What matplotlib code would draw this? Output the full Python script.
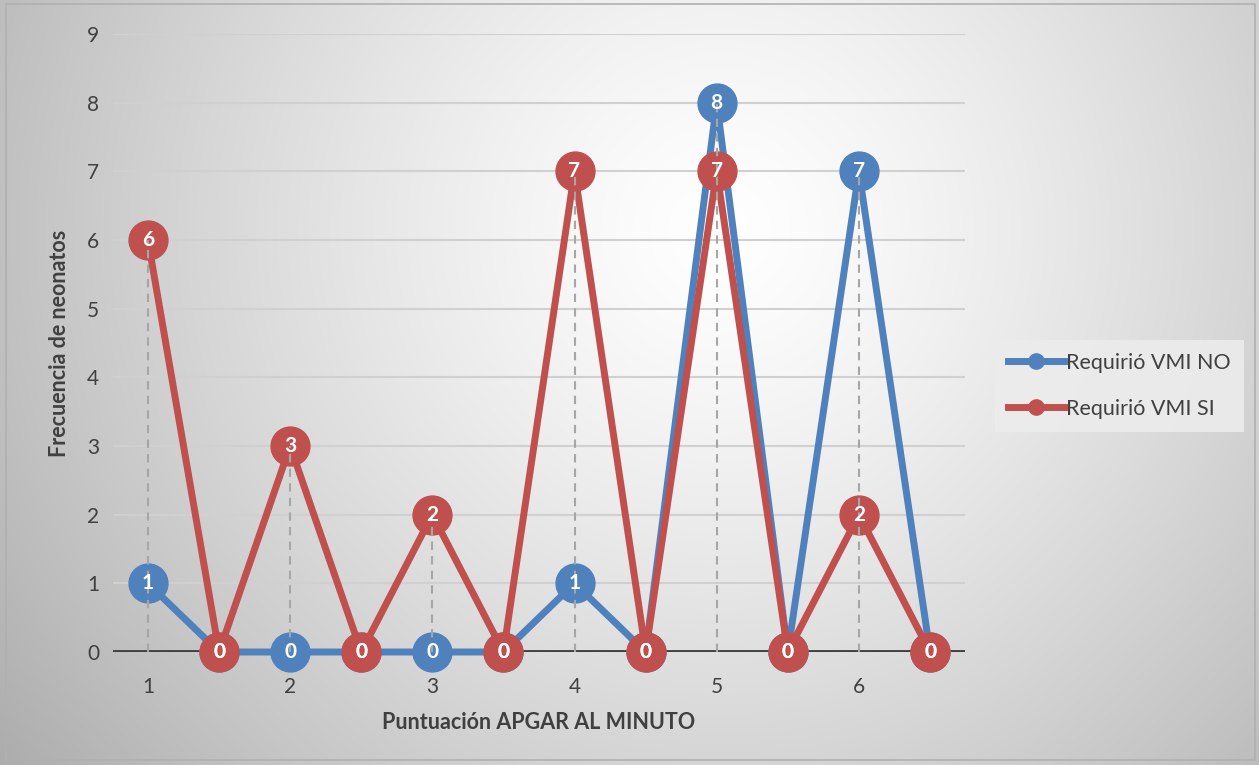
import numpy as np
import matplotlib
matplotlib.use("Agg")
import matplotlib.pyplot as plt
from matplotlib.patches import Rectangle
from matplotlib.lines import Line2D

plt.rcParams['font.family'] = ['Lato', 'DejaVu Sans']

# Data
x_pos = [1, 1.5, 2, 2.5, 3, 3.5, 4, 4.5, 5, 5.5, 6, 6.5]
tick_pos = [1, 2, 3, 4, 5, 6]
tick_labels = ['1', '2', '3', '4', '5', '6']
vmi_no = [1, 0, 0, 0, 0, 0, 1, 0, 8, 0, 7, 0]
vmi_si = [6, 0, 3, 0, 2, 0, 7, 0, 7, 0, 2, 0]
series_names = ['Requirió VMI NO', 'Requirió VMI SI']
colors = ['#4F81BD', '#C0504D']

W, H = 1259, 765
fig = plt.figure(figsize=(W / 100, H / 100), dpi=100)

# background radial gradient
bg = fig.add_axes([0, 0, 1, 1], zorder=-10)
yy, xx = np.mgrid[0:H, 0:W]
d = np.sqrt((xx - 720) ** 2 + (yy - 230) ** 2)
v = 1 - 0.27 * np.clip(d / 780, 0, 1.2) ** 1.3
img = np.dstack([v, v, v])
bg.imshow(img, aspect='auto', extent=[0, W, H, 0])
bg.add_patch(Rectangle((6, 4), W - 10, H - 9, fill=False, ec='#b0b0b0', lw=1.2))
bg.set_xlim(0, W)
bg.set_ylim(H, 0)
bg.axis('off')

left, right = 113 / W, 965 / W
bottom, top = 1 - 652 / H, 1 - 34 / H
ax = fig.add_axes([left, bottom, right - left, top - bottom])
ax.set_facecolor('none')
ax.set_xlim(0.754, 6.746)
ax.set_ylim(0, 9)
ax.set_yticks(range(0, 10))
ax.set_xticks(tick_pos)
ax.set_xticklabels(tick_labels)
for s in ax.spines.values():
    s.set_visible(False)
ax.tick_params(length=0, labelsize=15, labelcolor='#404040')
ax.tick_params(axis='y', pad=10)
ax.tick_params(axis='x', pad=18)
ax.grid(axis='y', color='#d0d0d0', lw=1.5, zorder=0)
ax.set_axisbelow(True)
ax.axhline(0, color='#404040', lw=3.5, zorder=1)

# drop lines
for xp, a, b in zip(x_pos, vmi_no, vmi_si):
    m = max(a, b)
    if m > 0:
        ax.plot([xp, xp], [0, m], ls=(0, (4, 3)), color='#a6a6a6', lw=1.5, zorder=6)

for vals, c, z in zip([vmi_no, vmi_si], colors, [3, 4]):
    ax.plot(x_pos, vals, color=c, lw=5, marker='o', ms=28, mec=c, mfc=c,
            zorder=z, clip_on=False)
    for xp, val in zip(x_pos, vals):
        ax.text(xp, val, str(val), color='white', fontsize=15, fontweight='bold',
                ha='center', va='center', zorder=z + 4)

ax.set_xlabel('Puntuación APGAR AL MINUTO', fontsize=15.5, fontweight='bold',
              color='#404040', labelpad=11)
ax.set_ylabel('Frecuencia de neonatos', fontsize=15.5, fontweight='bold',
              color='#404040', labelpad=12)

handles = [Line2D([], [], color=c, lw=5, marker='o', ms=11) for c in colors]
leg = fig.legend(handles, series_names, loc='upper left',
                 bbox_to_anchor=(995 / W, 1 - 340 / H), borderaxespad=0,
                 frameon=True, fontsize=15.5, handlelength=2.6, handletextpad=0.1,
                 labelspacing=1.2, borderpad=0.6, labelcolor='#404040')
leg.get_frame().set_facecolor('#ececec')
leg.get_frame().set_edgecolor('none')
leg.get_frame().set_alpha(0.9)
leg.get_frame().set_boxstyle('square', pad=0)

fig.savefig('out.png', dpi=100)
